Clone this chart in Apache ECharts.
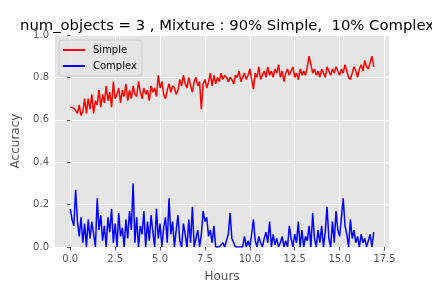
<!DOCTYPE html>
<html>
<head>
<meta charset="utf-8">
<script src="https://cdn.jsdelivr.net/npm/echarts@6/dist/echarts.min.js"></script>
<style>html,body{margin:0;padding:0;background:#fff}#c{width:432px;height:288px}</style>
</head>
<body>
<div id="c"></div>
<script>
var hours = [];
for (var i = 0; i < 170; i++) { hours.push(+(i * 0.1).toFixed(1)); }

var simple = [
0.66,0.655,0.655,0.66,0.63,0.67,0.62,0.64,0.70,0.63,
0.70,0.65,0.72,0.63,0.69,0.67,0.74,0.66,0.72,0.68,
0.76,0.69,0.73,0.66,0.78,0.70,0.72,0.75,0.68,0.74,
0.71,0.77,0.69,0.74,0.70,0.76,0.72,0.71,0.78,0.73,
0.70,0.75,0.72,0.74,0.69,0.76,0.73,0.75,0.71,0.81,
0.75,0.78,0.72,0.70,0.74,0.77,0.73,0.76,0.75,0.72,
0.74,0.79,0.76,0.81,0.77,0.75,0.80,0.76,0.73,0.78,
0.80,0.76,0.78,0.65,0.77,0.79,0.75,0.78,0.82,0.76,
0.81,0.77,0.80,0.78,0.82,0.79,0.81,0.80,0.78,0.80,
0.79,0.77,0.81,0.80,0.83,0.78,0.80,0.82,0.79,0.81,
0.84,0.79,0.745,0.82,0.80,0.85,0.79,0.81,0.83,0.80,
0.85,0.81,0.83,0.80,0.84,0.82,0.86,0.80,0.83,0.78,
0.82,0.84,0.81,0.83,0.85,0.80,0.82,0.79,0.84,0.81,
0.83,0.81,0.85,0.90,0.86,0.82,0.84,0.81,0.83,0.80,
0.84,0.82,0.80,0.85,0.83,0.81,0.84,0.82,0.85,0.83,
0.81,0.84,0.82,0.86,0.83,0.80,0.79,0.82,0.85,0.83,
0.80,0.84,0.86,0.83,0.88,0.85,0.84,0.87,0.90,0.85
];

var complex = [
0.18,0.13,0.10,0.27,0.12,0.05,0.14,0.02,0.11,0.0,
0.13,0.04,0.12,0.06,0.0,0.23,0.08,0.15,0.03,0.10,
0.0,0.14,0.07,0.18,0.02,0.11,0.0,0.16,0.05,0.09,
0.0,0.13,0.04,0.17,0.08,0.30,0.02,0.14,0.0,0.10,
0.06,0.17,0.0,0.12,0.03,0.15,0.07,0.0,0.18,0.04,
0.11,0.0,0.09,0.14,0.02,0.23,0.06,0.12,0.0,0.08,
0.15,0.03,0.0,0.11,0.06,0.0,0.13,0.02,0.19,0.0,
0.04,0.08,0.0,0.06,0.17,0.12,0.14,0.05,0.08,0.02,
0.10,0.0,0.0,0.0,0.0,0.02,0.0,0.0,0.06,0.16,
0.04,0.02,0.0,0.0,0.0,0.0,0.0,0.05,0.0,0.03,
0.0,0.06,0.13,0.03,0.0,0.05,0.02,0.0,0.04,0.07,
0.02,0.12,0.0,0.06,0.01,0.04,0.0,0.02,0.05,0.0,
0.03,0.0,0.10,0.04,0.0,0.06,0.02,0.12,0.0,0.08,
0.0,0.05,0.03,0.10,0.0,0.16,0.04,0.0,0.08,0.02,
0.10,0.0,0.07,0.19,0.04,0.0,0.12,0.02,0.17,0.08,
0.05,0.14,0.23,0.10,0.06,0.0,0.13,0.04,0.08,0.02,
0.05,0.0,0.06,0.02,0.04,0.0,0.03,0.06,0.0,0.07
];

var xTicks = [0, 2.5, 5, 7.5, 10, 12.5, 15, 17.5];

function pairs(ys) { return ys.map(function (v, i) { return [hours[i], v]; }); }

var font = 'DejaVu Sans';
var chart = echarts.init(document.getElementById('c'), null, { renderer: 'canvas' });
chart.setOption({
  animation: false,
  backgroundColor: '#ffffff',
  textStyle: { fontFamily: font },
  title: {
    text: 'num_objects = 3 , Mixture : 90% Simple,  10% Complex',
    left: 222, top: 14, textAlign: 'center',
    textStyle: { fontFamily: font, fontSize: 14.8, fontWeight: 'normal', color: '#000' }
  },
  legend: {
    left: 59, top: 40, orient: 'vertical',
    backgroundColor: 'rgba(229,229,229,0.8)', borderColor: '#cccccc', borderWidth: 1, borderRadius: 3,
    padding: [5, 5, 5, 4], itemGap: 6,
    itemWidth: 22, itemHeight: 2, icon: 'rect',
    textStyle: { fontFamily: font, fontSize: 10, color: '#000', padding: [0, 0, 0, 3] },
    data: ['Simple', 'Complex']
  },
  grid: {
    left: 55, right: 43, top: 35, bottom: 36,
    show: true, backgroundColor: '#E5E5E5', borderWidth: 0
  },
  xAxis: {
    type: 'value', min: -0.85, max: 17.75,
    name: 'Hours', nameLocation: 'middle', nameGap: 24,
    nameTextStyle: { fontFamily: font, fontSize: 12, color: '#555555' },
    axisLine: { show: false },
    axisTick: { show: true, inside: false, length: 3.5, lineStyle: { color: '#555555' }, customValues: xTicks },
    axisLabel: { customValues: xTicks, color: '#555555', fontSize: 10, fontFamily: font, margin: 7,
      formatter: function (v) { return v.toFixed(1); } },
    splitLine: { show: true, lineStyle: { color: '#ffffff', width: 1 } }
  },
  yAxis: {
    type: 'value', min: 0, max: 1, interval: 0.2,
    name: 'Accuracy', nameLocation: 'middle', nameGap: 30,
    nameTextStyle: { fontFamily: font, fontSize: 12, color: '#555555' },
    axisLine: { show: false },
    axisTick: { show: true, inside: false, length: 3.5, lineStyle: { color: '#555555' } },
    axisLabel: { color: '#555555', fontSize: 10, fontFamily: font, margin: 6,
      formatter: function (v) { return v.toFixed(1); } },
    splitLine: { show: true, lineStyle: { color: '#ffffff', width: 1 } }
  },
  series: [
    { name: 'Simple', type: 'line', data: pairs(simple), showSymbol: false, symbol: 'none',
      lineStyle: { color: '#ff0000', width: 1.5 }, itemStyle: { color: '#ff0000' } },
    { name: 'Complex', type: 'line', data: pairs(complex), showSymbol: false, symbol: 'none',
      lineStyle: { color: '#0000ff', width: 1.5 }, itemStyle: { color: '#0000ff' } }
  ]
});
</script>
</body>
</html>
